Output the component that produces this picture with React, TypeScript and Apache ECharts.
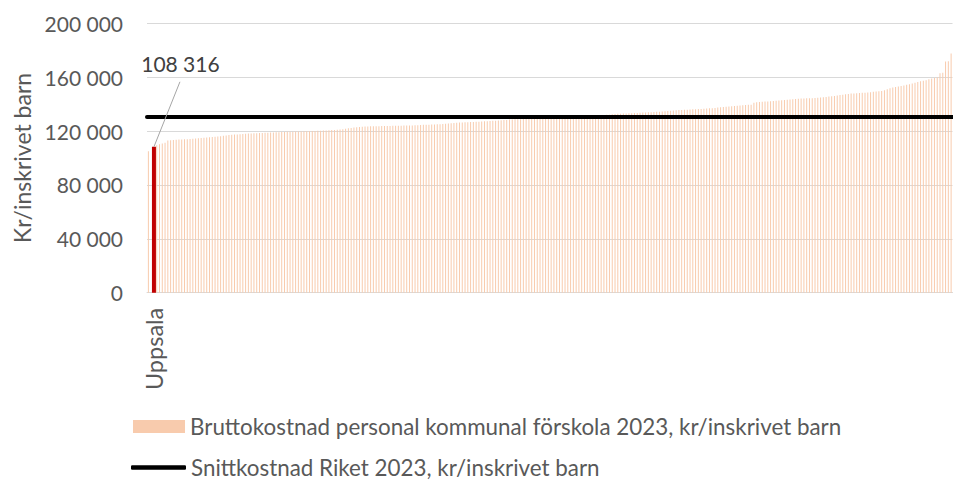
import React, { useEffect, useRef } from "react";
import * as echarts from "echarts";

const BAR_NAME = "Bruttokostnad personal kommunal förskola 2023, kr/inskrivet barn";
const LINE_NAME = "Snittkostnad Riket 2023, kr/inskrivet barn";
const HIGHLIGHT_NAME = "Uppsala";
const HIGHLIGHT_INDEX = 2;
const HIGHLIGHT_VALUE = 108316;
const HIGHLIGHT_LABEL = "108 316";
const AVERAGE = 130700;

const Y_MIN = 0;
const Y_MAX = 200000;
const Y_INTERVAL = 40000;

const costs: (number | null)[] = [
  105000, null, 108316, 109500, 110300, 110800, 111300, 113000, 113200, 113400,
  113500, 113700, 113800, 113900, 114000, 114100, 114300, 114400, 114600, 114800,
  115000, 115200, 115400, 115600, 115800, 116000, 116200, 116500, 116700, 117000,
  117200, 117400, 117500, 117700, 117800, 118000, 118100, 118200, 118300, 118400,
  118500, 118600, 118700, 118800, 118900, 119000, 119100, 119200, 119300, 119300,
  119400, 119500, 119500, 119600, 119700, 119700, 119800, 119900, 119900, 120000,
  120100, 120200, 120300, 120400, 120500, 120600, 120700, 120800, 121000, 121200,
  121400, 121700, 122000, 122300, 122600, 122900, 123100, 123200, 123300, 123400,
  123500, 123500, 123600, 123600, 123700, 123700, 123800, 123800, 123900, 123900,
  124000, 124000, 124100, 124100, 124200, 124200, 124300, 124400, 124500, 124600,
  124600, 124700, 124800, 124900, 125000, 125100, 125200, 125400, 125600, 125800,
  126000, 126100, 126300, 126400, 126500, 126600, 126700, 126800, 126900, 127000,
  127100, 127200, 127300, 127500, 127600, 127700, 127900, 128000, 128200, 128300,
  128500, 128600, 128700, 128800, 128800, 128900, 129000, 129000, 129100, 129200,
  129200, 129300, 129300, 129400, 129500, 129600, 129700, 129800, 129900, 130000,
  130100, 130200, 130400, 130500, 130600, 130800, 130900, 131000, 131100, 131300,
  131400, 131500, 131700, 131800, 131900, 132100, 132200, 132400, 132600, 132800,
  132900, 133000, 133100, 133200, 133300, 133400, 133500, 133600, 133700, 133800,
  133900, 134000, 134100, 134300, 134400, 134600, 134700, 134900, 135000, 135200,
  135400, 135600, 135700, 135800, 135900, 136000, 136100, 136200, 136300, 136400,
  136600, 136700, 136900, 137000, 137200, 137400, 137600, 137800, 138000, 138200,
  138400, 138600, 138800, 139000, 139200, 139400, 139500, 139600, 141000, 141300,
  141500, 141700, 141900, 142000, 142200, 142300, 142500, 142600, 142800, 143000,
  143200, 143400, 143600, 143800, 144000, 144100, 144200, 144300, 144300, 144400,
  144500, 144700, 144900, 145100, 145300, 145600, 145800, 146100, 146400, 146700,
  147000, 147300, 147600, 147800, 147900, 148100, 148200, 148400, 148500, 148700,
  148900, 149100, 149300, 149500, 149700, 150300, 151000, 151700, 152300, 152700,
  153100, 153400, 153800, 154300, 154800, 155400, 155900, 156400, 156900, 157400,
  157800, 158400, 159100, 159400, 160000, 163000, 163300, 171600, 171800, 177500,
];

const categories: string[] = costs.map((_, i) => (i === HIGHLIGHT_INDEX ? HIGHLIGHT_NAME : ""));

const FONT = 'Lato, "Open Sans", sans-serif';
const TEXT_COLOR = "#595959";

function fmt(v: number): string {
  return String(Math.round(v)).replace(/\B(?=(\d{3})+(?!\d))/g, " ");
}

export default function App() {
  const ref = useRef<HTMLDivElement>(null);
  useEffect(() => {
    document.body.style.margin = "0";
    if (!ref.current) return;
    const chart = echarts.init(ref.current, null, { renderer: "svg" });
    chart.setOption({
      animation: false,
      textStyle: { fontFamily: FONT },
      grid: { left: 147, right: 0.5, top: 23.3, bottom: 188.3, containLabel: false },
      legend: [
        {
          data: [BAR_NAME],
          left: 133,
          top: 415.5,
          padding: 0,
          itemWidth: 52,
          itemHeight: 13,
          icon: "rect",
          textStyle: { color: TEXT_COLOR, fontSize: 22.4, lineHeight: 20, fontFamily: FONT },
          selectedMode: false,
        },
        {
          data: [LINE_NAME],
          left: 131,
          top: 456.5,
          padding: 0,
          itemWidth: 55,
          itemHeight: 4.5,
          icon: "roundRect",
          itemStyle: { color: "#000000" },
          textStyle: { color: TEXT_COLOR, fontSize: 22.4, lineHeight: 20, fontFamily: FONT },
          selectedMode: false,
        },
      ],
      xAxis: {
        type: "category",
        data: categories,
        boundaryGap: true,
        axisLine: { show: true, lineStyle: { color: "#D9D9D9", width: 1 } },
        axisTick: { show: false },
        axisLabel: {
          interval: 0,
          rotate: 90,
          margin: 15,
          color: TEXT_COLOR,
          fontSize: 23.5,
          fontFamily: FONT,
        },
        splitLine: { show: false },
      },
      yAxis: {
        type: "value",
        min: Y_MIN,
        max: Y_MAX,
        interval: Y_INTERVAL,
        name: "Kr/inskrivet barn",
        nameLocation: "middle",
        nameGap: 113,
        nameTextStyle: { color: TEXT_COLOR, fontSize: 23, fontFamily: FONT },
        axisLine: { show: false },
        axisTick: { show: false },
        axisLabel: {
          margin: 24,
          color: TEXT_COLOR,
          fontSize: 21,
          fontFamily: FONT,
          formatter: (v: number) => fmt(v),
        },
        splitLine: { lineStyle: { color: "#D9D9D9", width: 1 } },
      },
      series: [
        {
          name: BAR_NAME,
          type: "bar",
          data: costs,
          barWidth: 1,
          itemStyle: { color: "#F8CBAD" },
          z: 2,
        },
        {
          name: LINE_NAME,
          type: "line",
          data: [],
          symbol: "none",
          showSymbol: false,
          color: "#000000",
          lineStyle: { color: "#000000", width: 4 },
          z: 5,
          markLine: {
            silent: true,
            symbol: ["none", "none"],
            label: { show: false },
            lineStyle: { color: "#000000", width: 4, type: "solid", cap: "round" },
            data: [{ yAxis: AVERAGE }],
          },
        },
        {
          name: HIGHLIGHT_NAME,
          type: "custom",
          data: [[HIGHLIGHT_INDEX, HIGHLIGHT_VALUE]],
          z: 10,
          renderItem: (params: any, api: any) => {
            const p = api.coord([api.value(0), api.value(1)]);
            const base = api.coord([api.value(0), 0]);
            return {
              type: "group",
              children: [
                {
                  type: "rect",
                  shape: { x: p[0] - 2, y: p[1], width: 4, height: base[1] - p[1] },
                  style: { fill: "#C00000" },
                },
                {
                  type: "line",
                  shape: { x1: p[0], y1: p[1], x2: p[0] + 26, y2: p[1] - 65 },
                  style: { stroke: "#A6A6A6", lineWidth: 1 },
                },
                {
                  type: "text",
                  style: {
                    text: HIGHLIGHT_LABEL,
                    x: p[0] + 26.5,
                    y: p[1] - 83,
                    align: "center",
                    verticalAlign: "middle",
                    fill: "#404040",
                    fontSize: 21,
                    fontFamily: FONT,
                  },
                },
              ],
            };
          },
        },
      ],
    });
    return () => chart.dispose();
  }, []);
  return <div ref={ref} style={{ width: 953, height: 481 }} />;
}
